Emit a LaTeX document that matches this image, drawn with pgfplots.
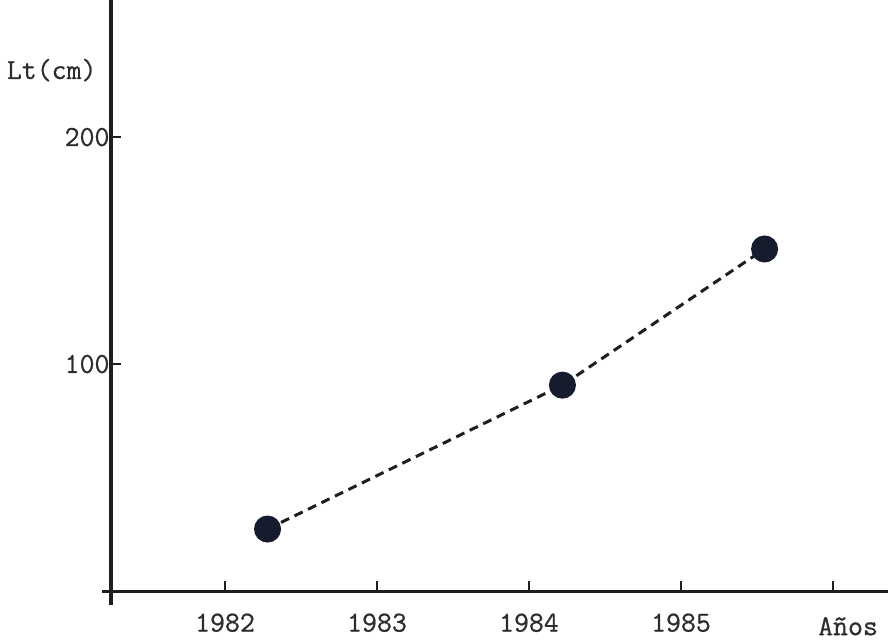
\documentclass[border=0pt]{standalone}
\usepackage{fontspec}
\newfontfamily\tfont[FakeBold=0.7]{Latin Modern Mono}
\usepackage{pgfplots}
\pgfplotsset{compat=1.18}
\definecolor{axc}{RGB}{30,30,32}
\definecolor{markc}{RGB}{22,28,45}
\definecolor{txtc}{RGB}{45,45,45}
\begin{document}
\begin{tikzpicture}
\useasboundingbox[fill=white] (0,0) rectangle (888pt,642pt);
\begin{axis}[
  at={(111pt,51pt)}, anchor=south west,
  scale only axis, width=777pt, height=591pt,
  xmin=1981.25, xmax=1986.362, ymin=0, ymax=260.4,
  axis x line*=bottom, axis y line*=left,
  xtick pos=bottom, ytick pos=left,
  tick align=inside,
  every outer x axis line/.append style={-, line width=3pt, color=axc, shorten <=-9pt},
  every outer y axis line/.append style={-, line width=3pt, color=axc, shorten <=-14pt},
  clip=false,
  major tick length=10pt,
  major tick style={line width=2.4pt, color=axc},
  xtick={1982,1983,1984,1985,1986},
  xticklabels={1982,1983,1984,1985,{}},
  ytick={100,200},
  yticklabels={100,200},
  ticklabel style={font=\fontsize{29}{32}\selectfont\tfont, text=txtc},
  xticklabel style={yshift=-19pt},
  yticklabel style={xshift=2pt},
]
\addplot[color=axc, line width=3pt, dash pattern=on 9pt off 6pt,
  mark=*, mark size=12pt, mark options={solid, fill=markc, draw=markc}]
  coordinates {(1982.28,27.3) (1984.22,90.7) (1985.55,150.7)};
\node[anchor=east, font=\fontsize{29}{32}\selectfont\tfont, text=txtc] at (axis cs:1981.178,229.5) {Lt(cm)};
\node[anchor=center, font=\fontsize{29}{32}\selectfont\tfont, text=txtc] at (axis cs:1986.099,-15.5) {Años};
\end{axis}
\end{tikzpicture}
\end{document}
